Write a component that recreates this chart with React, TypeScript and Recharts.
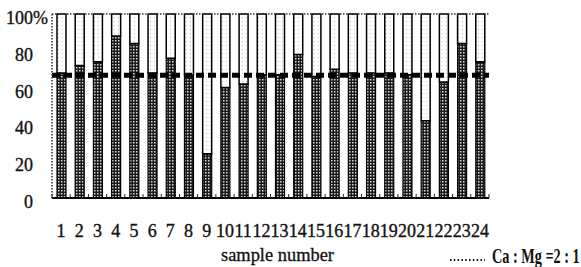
import React from 'react';
import { BarChart, Bar, XAxis, YAxis, CartesianGrid, ReferenceLine, Legend } from 'recharts';

const categories = ['1','2','3','4','5','6','7','8','9','10','11','12','13','14','15','16','17','18','19','20','21','22','23','24'];
const caShare = [68, 72, 74, 88, 84, 68, 76, 67, 24, 60, 62, 67, 67, 78, 66, 70, 68, 68, 68, 67, 42, 63, 84, 74];
const mgShare = [32, 28, 26, 12, 16, 32, 24, 33, 76, 40, 38, 33, 33, 22, 34, 30, 32, 32, 32, 33, 58, 37, 16, 26];
const yTicks = [0, 20, 40, 60, 80, 100];
const ratioLine = 66.7;

const data = categories.map((c, i) => ({ name: c, ca: caShare[i], mg: mgShare[i] }));

const W = 581;
const H = 267;
const M = { top: 14, right: 92, bottom: 0, left: 0 };
const Y_W = 52;
const X_H = 69;
const PLOT_W = W - M.left - M.right - Y_W;
const BAND = PLOT_W / categories.length;
const FONT = "'Liberation Serif'";
const txt = { fontFamily: FONT };

const XTick = (props: any) => {
  const { x, y, payload, index } = props;
  const half = BAND / 2;
  return (
    <g>
      <line x1={x - half} y1={y} x2={x - half} y2={y - 4} stroke="#222" strokeWidth={1} />
      {index === categories.length - 1 && (
        <line x1={x + half} y1={y} x2={x + half} y2={y - 4} stroke="#222" strokeWidth={1} />
      )}
      <text x={x} y={y + 39} textAnchor="middle" style={txt} fontSize={18} fill="#111" stroke="#111" strokeWidth={0.35}>
        {payload.value}
      </text>
    </g>
  );
};

const YTick = (props: any) => {
  const { x, y, payload } = props;
  return (
    <g>
      <text x={x} y={y + 10} textAnchor="end" style={txt} fontSize={18} fill="#111" stroke="#111" strokeWidth={0.35}>
        {payload.value}
      </text>
      {payload.value === 100 && (
        <text x={x} y={y + 10} textAnchor="start" style={txt} fontSize={18} fill="#111" stroke="#111" strokeWidth={0.35}>%</text>
      )}
    </g>
  );
};

const XLabel = (props: any) => {
  const { viewBox } = props;
  const cx = viewBox.x + viewBox.width / 2 + 7;
  return (
    <text x={cx} y={viewBox.y + 63} textAnchor="middle" style={txt} fontSize={18} fill="#111" stroke="#111" strokeWidth={0.3} textLength={113} lengthAdjust="spacingAndGlyphs">
      sample number
    </text>
  );
};

const LegendContent = () => (
  <svg width={141} height={22} style={{ display: 'block', overflow: 'visible' }}>
    <line x1={10} y1={15} x2={45} y2={15} stroke="#111" strokeWidth={2} strokeDasharray="1.5 2.3" />
    <g transform="translate(52,18) scale(0.68,1)">
      <text x={0} y={0} style={txt} fontSize={21} fontWeight="bold" fill="#111">
        Ca : Mg =2 : 1
      </text>
    </g>
  </svg>
);

export default function App() {
  return (
    <div style={{ position: 'absolute', left: 0, top: 0, width: W, height: H, background: '#fff', fontFamily: FONT }}>
      <BarChart width={W} height={H} data={data} margin={M} barSize={9}>
        <defs>
          <pattern id="darkDots" width="3" height="3" patternUnits="userSpaceOnUse">
            <rect width="3" height="3" fill="#1a1a1a" />
            <rect x="1" y="1" width="1.5" height="1.5" fill="#d8d8d8" />
          </pattern>
          <pattern id="lightDots" width="4" height="4" patternUnits="userSpaceOnUse">
            <rect width="4" height="4" fill="#ffffff" />
            <rect x="2" y="1" width="1" height="1" fill="#bdbdbd" />
          </pattern>
        </defs>
        <CartesianGrid horizontal vertical={false} stroke="#666" strokeWidth={1} horizontalValues={[20, 40, 60, 80]} />
        <XAxis
          dataKey="name"
          height={X_H}
          interval={0}
          tickSize={0}
          tickMargin={0}
          tickLine={false}
          axisLine={{ stroke: '#000', strokeWidth: 2 }}
          tick={<XTick />}
          label={<XLabel />}
        />
        <YAxis
          yAxisId="left"
          width={Y_W}
          domain={[0, 100]}
          ticks={yTicks}
          interval={0}
          tickSize={0}
          tickMargin={19}
          tickLine={false}
          axisLine={{ stroke: '#333', strokeWidth: 1.5, strokeDasharray: '1.5 1.5' }}
          tick={<YTick />}
        />
        <YAxis
          yAxisId="right"
          orientation="right"
          width={0}
          domain={[0, 100]}
          tick={false}
          tickLine={false}
          axisLine={{ stroke: '#333', strokeWidth: 1.5, strokeDasharray: '1.5 1.5' }}
        />
        <Bar yAxisId="left" dataKey="ca" stackId="s" fill="url(#darkDots)" stroke="#000" strokeWidth={1.2} isAnimationActive={false} />
        <Bar yAxisId="left" dataKey="mg" stackId="s" fill="url(#lightDots)" stroke="#000" strokeWidth={1.5} isAnimationActive={false} />
        <ReferenceLine yAxisId="left" y={100} stroke="#333" strokeWidth={1.5} strokeDasharray="1.5 1.5" />
        <ReferenceLine yAxisId="left" y={ratioLine} stroke="#000" strokeWidth={5} strokeDasharray="8 4" />
        <Legend
          verticalAlign="middle"
          layout="horizontal"
          content={<LegendContent />}
          wrapperStyle={{ position: 'absolute', left: 440, top: 245, width: 141, height: 22 }}
        />
      </BarChart>
    </div>
  );
}
